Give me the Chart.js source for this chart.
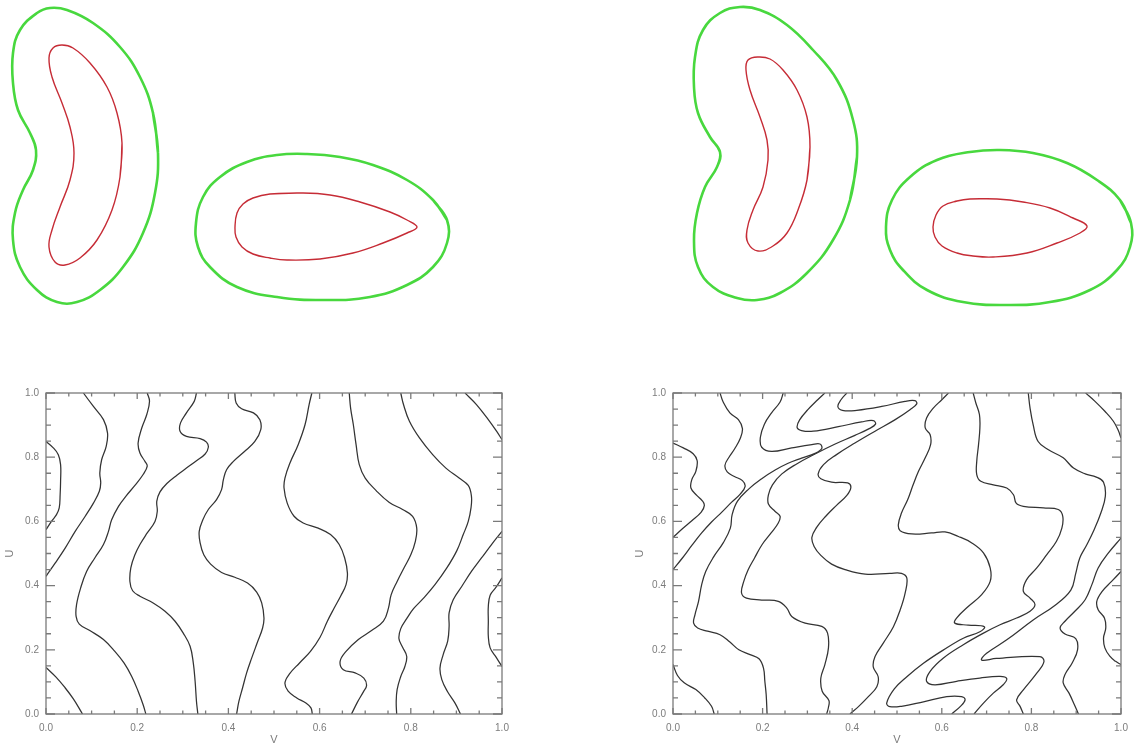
<!DOCTYPE html>
<html>
<head>
<meta charset="utf-8">
<script src="https://cdn.jsdelivr.net/npm/chart.js@4.4.1/dist/chart.umd.min.js"></script>
<style>
  html, body { margin: 0; padding: 0; background: #fff; }
  #fig { position: relative; width: 1141px; height: 748px; overflow: hidden; background: #fff; }
  #fig canvas { position: absolute; }
</style>
</head>
<body>
<div id="fig">
  <canvas id="shapesLeft" width="570" height="330" style="left:0px;top:0px"></canvas>
  <canvas id="shapesRight" width="571" height="330" style="left:570px;top:0px"></canvas>
  <canvas id="contourLeft" width="520" height="368" style="left:0px;top:380px"></canvas>
  <canvas id="contourRight" width="511" height="368" style="left:630px;top:380px"></canvas>
</div>
<script>
// ---------- Upper row: closed outlines (x, y in figure units, y downward) ----------
const leftKidney = [[153,113],[140,77],[120,47],[93,23],[67,10],[50,8],[37,13],[20,30],[13,53],[13,83],[18,110],[30,133],[36,150],[33,170],[23,190],[15,213],[13,240],[20,267],[37,290],[57,302],[77,302],[100,290],[123,267],[143,233],[155,193],[158,153],[153,113]];
const leftCrescent = [[122,143],[117,113],[107,87],[90,63],[73,48],[62,45],[53,48],[49,58],[52,77],[62,103],[70,127],[74,153],[70,180],[60,207],[52,230],[49,247],[55,262],[65,265],[80,258],[97,240],[112,210],[120,177],[122,143]];
const leftEgg = [[447,220],[447,243],[433,267],[407,285],[370,297],[323,300],[277,297],[237,287],[210,267],[198,247],[196,223],[203,197],[220,177],[247,162],[277,155],[307,154],[340,157],[373,165],[407,180],[433,200],[447,220]];
const leftDrop = [[300,193],[330,195],[360,202],[390,212],[407,220],[417,227],[407,233],[383,243],[353,253],[320,259],[287,260],[270,258],[253,254],[242,247],[236,237],[235,227],[237,213],[243,204],[253,198],[270,194],[300,193]];

const rightKidney = [[857,157],[853,120],[837,80],[813,50],[787,25],[760,10],[740,7],[720,13],[703,30],[695,57],[694,87],[698,113],[710,137],[720,152],[717,167],[705,187],[697,213],[694,240],[698,267],[713,287],[737,298],[757,300],[780,293],[807,273],[833,240],[850,200],[857,157]];
const rightCrescent = [[810,147],[807,117],[797,90],[783,70],[770,59],[758,57],[748,60],[746,70],[750,90],[760,117],[767,140],[768,160],[763,187],[753,210],[747,230],[748,243],[758,251],[773,246],[787,233],[798,210],[807,180],[810,147]];
const rightEgg = [[1131,223],[1130,247],[1117,270],[1090,290],[1050,302],[1007,305],[963,302],[927,290],[903,270],[890,250],[886,227],[892,200],[910,177],[937,160],[970,152],[1000,150],[1033,153],[1067,163],[1097,180],[1120,200],[1131,223]];
const rightDrop = [[997,199],[1023,202],[1050,208],[1073,218],[1087,226],[1080,233],[1057,243],[1027,253],[993,257],[973,256],[957,253],[942,246],[935,237],[933,227],[936,215],[943,206],[957,201],[970,199],[997,199]];

// ---------- Lower row: iso-lines in the (V, U) unit square ----------
const lA = [[0,0.145],[0.022,0.115],[0.040,0.085],[0.060,0.047],[0.080,0]];
const lB = [[0,0.849],[0.016,0.829],[0.027,0.808],[0.032,0.777],[0.032,0.725],[0.031,0.683],[0.029,0.642],[0.023,0.621],[0.012,0.600],[0,0.574]];
const lC = [[0.082,1.0],[0.104,0.958],[0.126,0.917],[0.135,0.875],[0.132,0.834],[0.122,0.792],[0.118,0.751],[0.120,0.720],[0.117,0.694],[0.104,0.657],[0.086,0.616],[0.064,0.569],[0.042,0.517],[0.020,0.470],[0,0.429]];
const lD = [[0.222,1.0],[0.227,0.974],[0.221,0.933],[0.210,0.891],[0.202,0.844],[0.206,0.813],[0.217,0.787],[0.222,0.772],[0.213,0.746],[0.195,0.712],[0.175,0.678],[0.159,0.647],[0.144,0.605],[0.137,0.569],[0.126,0.528],[0.107,0.486],[0.089,0.444],[0.076,0.393],[0.067,0.341],[0.066,0.304],[0.073,0.280],[0.096,0.260],[0.126,0.232],[0.151,0.195],[0.171,0.159],[0.188,0.117],[0.202,0.071],[0.213,0.029],[0.219,0]];
const lE = [[0.330,1.0],[0.325,0.974],[0.308,0.938],[0.295,0.907],[0.294,0.881],[0.308,0.865],[0.338,0.858],[0.352,0.847],[0.356,0.831],[0.349,0.810],[0.330,0.789],[0.308,0.766],[0.287,0.744],[0.265,0.718],[0.250,0.692],[0.243,0.663],[0.244,0.631],[0.239,0.600],[0.222,0.564],[0.206,0.528],[0.195,0.496],[0.186,0.455],[0.184,0.413],[0.190,0.384],[0.206,0.367],[0.235,0.346],[0.261,0.320],[0.283,0.289],[0.301,0.252],[0.316,0.211],[0.323,0.159],[0.327,0.102],[0.330,0.039],[0.333,0]];
const lF = [[0.414,1.0],[0.417,0.969],[0.429,0.951],[0.455,0.938],[0.469,0.917],[0.471,0.886],[0.458,0.849],[0.434,0.816],[0.411,0.787],[0.396,0.761],[0.389,0.730],[0.385,0.699],[0.374,0.668],[0.356,0.637],[0.344,0.605],[0.336,0.569],[0.338,0.533],[0.346,0.496],[0.361,0.467],[0.385,0.441],[0.414,0.426],[0.442,0.408],[0.462,0.380],[0.473,0.346],[0.478,0.299],[0.475,0.268],[0.463,0.221],[0.451,0.174],[0.440,0.128],[0.431,0.081],[0.423,0.039],[0.418,0]];
const lG = [[0.583,1.0],[0.577,0.964],[0.568,0.901],[0.553,0.839],[0.535,0.782],[0.524,0.735],[0.522,0.704],[0.529,0.657],[0.544,0.616],[0.564,0.595],[0.597,0.579],[0.624,0.559],[0.643,0.528],[0.655,0.486],[0.661,0.439],[0.658,0.403],[0.646,0.367],[0.632,0.330],[0.617,0.289],[0.601,0.239],[0.580,0.195],[0.556,0.159],[0.534,0.125],[0.524,0.097],[0.531,0.071],[0.550,0.050],[0.570,0.034],[0.581,0.019],[0.584,0]];
const lH = [[0.665,1.0],[0.668,0.953],[0.674,0.901],[0.680,0.839],[0.687,0.777],[0.700,0.735],[0.724,0.696],[0.753,0.659],[0.782,0.637],[0.804,0.616],[0.813,0.579],[0.810,0.538],[0.800,0.496],[0.785,0.455],[0.770,0.413],[0.757,0.372],[0.751,0.330],[0.740,0.289],[0.714,0.260],[0.685,0.232],[0.658,0.195],[0.645,0.164],[0.652,0.138],[0.678,0.128],[0.697,0.112],[0.703,0.089],[0.696,0.069],[0.683,0.037],[0.670,0]];
const lI = [[0.778,1.0],[0.784,0.964],[0.797,0.912],[0.819,0.860],[0.848,0.808],[0.877,0.766],[0.906,0.735],[0.926,0.712],[0.933,0.678],[0.932,0.642],[0.926,0.600],[0.915,0.559],[0.901,0.509],[0.879,0.455],[0.853,0.403],[0.828,0.361],[0.806,0.328],[0.791,0.297],[0.778,0.266],[0.774,0.235],[0.782,0.208],[0.791,0.180],[0.787,0.148],[0.778,0.117],[0.770,0.076],[0.768,0.037],[0.769,0]];
const lJ = [[0.919,1.0],[0.944,0.964],[0.970,0.917],[0.988,0.881],[1.0,0.855]];
const lK = [[1.0,0.569],[0.977,0.528],[0.955,0.486],[0.933,0.444],[0.912,0.398],[0.893,0.356],[0.884,0.315],[0.884,0.273],[0.881,0.228],[0.871,0.185],[0.864,0.143],[0.868,0.107],[0.880,0.071],[0.897,0.034],[0.909,0]];
const lL = [[1.0,0.424],[0.987,0.395],[0.974,0.370],[0.970,0.335],[0.970,0.289],[0.970,0.242],[0.974,0.206],[0.987,0.177],[1.0,0.148]];

const rA = [[0,0.154],[0.010,0.120],[0.025,0.097],[0.051,0.076],[0.071,0.050],[0.086,0.024],[0.092,0]];
const rB = [[0,0.844],[0.023,0.829],[0.045,0.811],[0.054,0.789],[0.051,0.756],[0.042,0.730],[0.040,0.704],[0.053,0.681],[0.065,0.665],[0.070,0.650],[0.063,0.629],[0.042,0.602],[0.021,0.577],[0,0.550]];
const rC = [[0.105,1.0],[0.112,0.972],[0.127,0.938],[0.146,0.917],[0.155,0.889],[0.150,0.858],[0.138,0.827],[0.125,0.800],[0.116,0.775],[0.121,0.754],[0.137,0.740],[0.155,0.727],[0.161,0.709],[0.150,0.685],[0.131,0.660],[0.109,0.629],[0.086,0.598],[0.064,0.564],[0.042,0.525],[0.021,0.486],[0,0.450]];
const rD = [[0.246,1.0],[0.239,0.972],[0.220,0.938],[0.204,0.903],[0.195,0.862],[0.198,0.831],[0.220,0.818],[0.265,0.829],[0.310,0.839],[0.328,0.841],[0.332,0.827],[0.317,0.812],[0.287,0.797],[0.257,0.781],[0.228,0.760],[0.198,0.733],[0.170,0.702],[0.144,0.663],[0.132,0.621],[0.128,0.579],[0.112,0.533],[0.090,0.488],[0.073,0.444],[0.064,0.403],[0.057,0.351],[0.049,0.309],[0.046,0.283],[0.055,0.268],[0.077,0.258],[0.105,0.247],[0.127,0.224],[0.147,0.200],[0.172,0.185],[0.192,0.172],[0.202,0.143],[0.205,0.102],[0.208,0.060],[0.210,0]];
const rE = [[0.339,1.0],[0.323,0.979],[0.301,0.948],[0.283,0.917],[0.277,0.893],[0.287,0.883],[0.313,0.881],[0.369,0.895],[0.421,0.910],[0.447,0.914],[0.452,0.903],[0.438,0.889],[0.406,0.868],[0.362,0.841],[0.317,0.810],[0.276,0.779],[0.243,0.748],[0.222,0.714],[0.213,0.683],[0.213,0.654],[0.228,0.631],[0.239,0.616],[0.235,0.595],[0.219,0.564],[0.199,0.528],[0.182,0.486],[0.168,0.450],[0.158,0.413],[0.153,0.377],[0.164,0.361],[0.198,0.355],[0.235,0.351],[0.254,0.330],[0.265,0.304],[0.295,0.283],[0.332,0.273],[0.345,0.252],[0.347,0.206],[0.339,0.154],[0.330,0.112],[0.333,0.071],[0.348,0.042],[0.347,0.021],[0.343,0]];
const rF = [[0.388,1.0],[0.375,0.979],[0.368,0.958],[0.378,0.946],[0.410,0.946],[0.466,0.958],[0.518,0.974],[0.540,0.976],[0.544,0.966],[0.529,0.948],[0.496,0.917],[0.451,0.881],[0.406,0.844],[0.365,0.808],[0.336,0.777],[0.324,0.748],[0.330,0.733],[0.354,0.722],[0.390,0.720],[0.397,0.706],[0.388,0.681],[0.365,0.650],[0.341,0.616],[0.321,0.582],[0.310,0.550],[0.315,0.522],[0.330,0.494],[0.354,0.467],[0.384,0.450],[0.429,0.436],[0.484,0.438],[0.510,0.438],[0.522,0.423],[0.518,0.376],[0.507,0.324],[0.492,0.272],[0.469,0.220],[0.451,0.179],[0.447,0.147],[0.458,0.116],[0.455,0.085],[0.436,0.054],[0.414,0.023],[0.395,0]];
const rG = [[0.615,1.0],[0.600,0.979],[0.581,0.953],[0.566,0.922],[0.563,0.891],[0.574,0.870],[0.575,0.839],[0.563,0.798],[0.548,0.756],[0.536,0.714],[0.524,0.668],[0.510,0.626],[0.503,0.590],[0.507,0.571],[0.533,0.561],[0.577,0.564],[0.607,0.567],[0.637,0.553],[0.667,0.533],[0.693,0.502],[0.708,0.455],[0.708,0.413],[0.689,0.372],[0.659,0.335],[0.633,0.299],[0.629,0.283],[0.659,0.277],[0.695,0.272],[0.685,0.256],[0.648,0.236],[0.603,0.199],[0.559,0.158],[0.522,0.116],[0.494,0.078],[0.477,0.034],[0.484,0.023],[0.510,0.024],[0.559,0.038],[0.611,0.054],[0.644,0.054],[0.652,0.044],[0.641,0.023],[0.622,0]];
const rH = [[0.670,1.0],[0.676,0.969],[0.684,0.933],[0.685,0.891],[0.682,0.839],[0.678,0.787],[0.678,0.746],[0.687,0.725],[0.715,0.714],[0.745,0.704],[0.760,0.683],[0.766,0.657],[0.782,0.647],[0.827,0.642],[0.860,0.637],[0.870,0.616],[0.868,0.579],[0.856,0.538],[0.834,0.496],[0.812,0.455],[0.789,0.418],[0.782,0.382],[0.797,0.361],[0.808,0.341],[0.797,0.320],[0.767,0.299],[0.730,0.278],[0.693,0.252],[0.648,0.216],[0.603,0.174],[0.574,0.133],[0.566,0.102],[0.585,0.091],[0.633,0.102],[0.685,0.112],[0.730,0.117],[0.745,0.110],[0.737,0.091],[0.715,0.065],[0.693,0.034],[0.672,0]];
const rI = [[0.793,1.0],[0.797,0.953],[0.804,0.901],[0.815,0.849],[0.838,0.823],[0.871,0.798],[0.894,0.766],[0.920,0.748],[0.945,0.738],[0.961,0.722],[0.965,0.678],[0.955,0.626],[0.940,0.574],[0.924,0.528],[0.908,0.486],[0.899,0.438],[0.888,0.386],[0.853,0.339],[0.804,0.293],[0.745,0.231],[0.700,0.189],[0.689,0.168],[0.722,0.173],[0.819,0.179],[0.828,0.163],[0.812,0.127],[0.782,0.075],[0.767,0.044],[0.775,0.023],[0.782,0]];
const rJ = [[0.921,1.0],[0.942,0.974],[0.964,0.943],[0.983,0.912],[0.994,0.883],[1.0,0.860]];
const rK = [[1.0,0.548],[0.972,0.502],[0.949,0.455],[0.935,0.403],[0.920,0.356],[0.897,0.320],[0.875,0.289],[0.864,0.268],[0.875,0.249],[0.899,0.235],[0.903,0.200],[0.891,0.159],[0.875,0.123],[0.871,0.097],[0.884,0.065],[0.896,0.029],[0.905,0]];
const rL = [[1.0,0.444],[0.979,0.413],[0.958,0.382],[0.946,0.351],[0.949,0.325],[0.963,0.299],[0.966,0.268],[0.961,0.237],[0.964,0.206],[0.975,0.180],[0.988,0.164],[1.0,0.154]];

const AXIS_TICKS = [0, 0.2, 0.4, 0.6, 0.8, 1.0];

// ---------- styling ----------
const GREEN = 'rgb(72, 216, 62)';
const RED = 'rgb(198, 44, 54)';
const INK = '#333333';
const FRAME = '#7a7a7a';
const LABEL = '#7c7c7c';
const FONT = "'Liberation Sans', Arial, sans-serif";

const toXY = pts => pts.map(([x, y]) => ({ x, y }));

// A closed outline ends on its first vertex; leading with the vertex before it
// lets the spline meet itself with a continuous tangent.
const wrapClosed = pts => [pts[pts.length - 2], ...pts];

function outline(pts, color, width) {
  return { data: toXY(wrapClosed(pts)), showLine: true, borderColor: color, borderWidth: width,
           pointRadius: 0, tension: 0.42, fill: false };
}

function shapesChart(id, xMin, xMax, outer, inner) {
  const datasets = [];
  outer.forEach(p => datasets.push(outline(p, GREEN, 2.6)));
  inner.forEach(p => datasets.push(outline(p, RED, 1.4)));
  return new Chart(document.getElementById(id), {
    type: 'scatter',
    data: { datasets },
    options: {
      responsive: false, animation: false, devicePixelRatio: 1, events: [],
      layout: { padding: 0 },
      plugins: { legend: { display: false }, tooltip: { enabled: false } },
      scales: {
        x: { type: 'linear', display: false, min: xMin, max: xMax },
        y: { type: 'linear', display: false, min: 0, max: 330, reverse: true }
      }
    }
  });
}

// Box frame with inward major/minor ticks on all four sides
const frameTicks = {
  id: 'frameTicks',
  afterDatasetsDraw(chart) {
    const { ctx, chartArea: a, scales: { x, y } } = chart;
    ctx.save();
    ctx.strokeStyle = FRAME;
    ctx.lineWidth = 1.3;
    ctx.strokeRect(a.left, a.top, a.right - a.left, a.bottom - a.top);
    ctx.beginPath();
    for (let i = 0; i <= 20; i++) {
      const t = i / 20;
      const major = i % 4 === 0;
      const lx = major ? 6 : 3.5;   // ticks on horizontal edges
      const ly = major ? 9 : 5;     // ticks on vertical edges
      const px = x.getPixelForValue(t);
      const py = y.getPixelForValue(t);
      ctx.moveTo(px, a.bottom); ctx.lineTo(px, a.bottom - lx);
      ctx.moveTo(px, a.top);    ctx.lineTo(px, a.top + lx);
      ctx.moveTo(a.left, py);   ctx.lineTo(a.left + ly, py);
      ctx.moveTo(a.right, py);  ctx.lineTo(a.right - ly, py);
    }
    ctx.stroke();
    ctx.restore();
  }
};

function contourChart(id, lines, yAxisWidth, rightPad) {
  const tickOpts = {
    color: LABEL, font: { family: FONT, size: 10 },
    autoSkip: false, maxRotation: 0,
    callback: v => Number(v).toFixed(1)
  };
  const setTicks = s => { s.ticks = AXIS_TICKS.map(value => ({ value })); };
  return new Chart(document.getElementById(id), {
    type: 'scatter',
    data: {
      datasets: lines.map(pts => ({
        data: toXY(pts), showLine: true, borderColor: INK, borderWidth: 1.25,
        pointRadius: 0, tension: 0.4, fill: false
      }))
    },
    options: {
      responsive: false, animation: false, devicePixelRatio: 1, events: [],
      layout: { padding: { left: 0, right: rightPad, top: 13, bottom: 0 } },
      plugins: { legend: { display: false }, tooltip: { enabled: false } },
      scales: {
        x: {
          type: 'linear', min: 0, max: 1,
          grid: { display: false, drawTicks: false }, border: { display: false },
          ticks: Object.assign({ padding: 8 }, tickOpts),
          afterBuildTicks: setTicks,
          title: { display: true, text: 'V', color: LABEL, font: { family: FONT, size: 11 }, padding: { top: 0, bottom: 1 } },
          afterFit(s) { s.height = 34; }
        },
        y: {
          type: 'linear', min: 0, max: 1,
          grid: { display: false, drawTicks: false }, border: { display: false },
          ticks: Object.assign({ padding: 7 }, tickOpts),
          afterBuildTicks: setTicks,
          title: { display: true, text: 'U', color: LABEL, font: { family: FONT, size: 11 }, padding: { top: 3, bottom: 0 } },
          afterFit(s) { s.width = yAxisWidth; }
        }
      }
    },
    plugins: [frameTicks]
  });
}

shapesChart('shapesLeft', 0, 570, [leftKidney, leftEgg], [leftCrescent, leftDrop]);
shapesChart('shapesRight', 570, 1141, [rightKidney, rightEgg], [rightCrescent, rightDrop]);
contourChart('contourLeft', [lA, lB, lC, lD, lE, lF, lG, lH, lI, lJ, lK, lL], 46, 18);
contourChart('contourRight', [rA, rB, rC, rD, rE, rF, rG, rH, rI, rJ, rK, rL], 43, 20);
</script>
</body>
</html>
